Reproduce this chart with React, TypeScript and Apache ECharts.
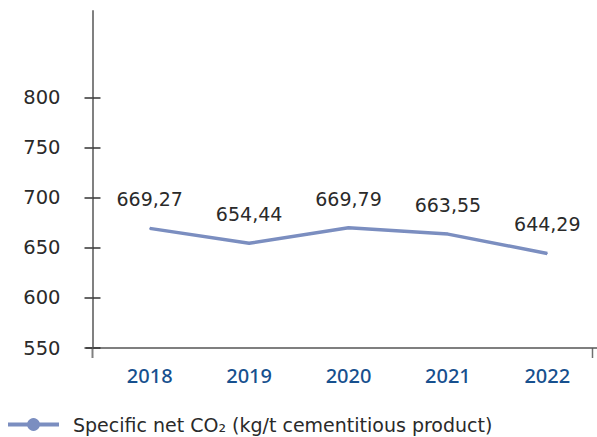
import React, { useEffect, useRef } from "react";
import * as echarts from "echarts";

const categories = ["2018", "2019", "2020", "2021", "2022"];
const co2Values = [669.27, 654.44, 669.79, 663.55, 644.29];
const yTickValues = [550, 600, 650, 700, 750, 800];
const seriesName = "Specific net CO₂ (kg/t cementitious product)";

const FONT = "'DejaVu Sans', sans-serif";

export default function App() {
  const ref = useRef<HTMLDivElement>(null);
  useEffect(() => {
    document.body.style.margin = "0";
    if (!ref.current) return;
    const chart = echarts.init(ref.current, null, { renderer: "svg" });
    const yMin = 550;
    const yMax = 886;
    chart.setOption({
      animation: false,
      backgroundColor: "#ffffff",
      grid: { left: 100, right: 0, top: 11, bottom: 89, containLabel: false },
      legend: {
        left: 1,
        top: 410,
        itemWidth: 51,
        itemHeight: 16,
        lineStyle: { width: 4 },
        textStyle: {
          fontFamily: FONT,
          fontSize: 19,
          color: "#2a2a2a",
          padding: [0, 0, 0, 9],
        },
        data: [seriesName],
      },
      xAxis: {
        type: "category",
        data: categories,
        boundaryGap: true,
        axisLine: { show: true, lineStyle: { color: "#555555", width: 1.5 } },
        axisTick: { show: false },
        axisLabel: {
          color: "#17508e",
          fontFamily: "'Noto Sans', sans-serif",
          fontWeight: 500,
          fontSize: 20,
          margin: 17,
        },
        splitLine: { show: false },
      },
      yAxis: [
        {
          type: "value",
          min: yMin,
          max: yMax,
          interval: 50,
          offset: 7.5,
          axisLine: { show: true, lineStyle: { color: "#808080", width: 2 } },
          axisTick: {
            show: true,
            length: 8,
            customValues: yTickValues,
            lineStyle: { color: "#333333", width: 1.5 },
          },
          axisLabel: {
            customValues: yTickValues,
            fontFamily: FONT,
            fontSize: 19.5,
            color: "#2a2a2a",
            margin: 32,
          },
          splitLine: { show: false },
        },
        {
          type: "value",
          min: yMin,
          max: yMax,
          interval: 50,
          offset: 7.5,
          position: "left",
          axisLine: { show: false },
          axisTick: {
            show: true,
            inside: true,
            length: 8,
            customValues: yTickValues,
            lineStyle: { color: "#333333", width: 1.5 },
          },
          axisLabel: { show: false },
          splitLine: { show: false },
        },
        {
          type: "value",
          min: yMin,
          max: yMax,
          position: "right",
          offset: 4.5,
          axisLine: { show: true, lineStyle: { color: "#707070", width: 1.5 } },
          axisTick: { show: false },
          axisLabel: { show: false },
          splitLine: { show: false },
        },
      ],
      graphic: [
        {
          type: "line",
          shape: { x1: 86, y1: 348, x2: 100, y2: 348 },
          style: { stroke: "#555555", lineWidth: 1.5 },
        },
        {
          type: "line",
          shape: { x1: 92.5, y1: 348, x2: 92.5, y2: 358 },
          style: { stroke: "#808080", lineWidth: 2 },
        },
        {
          type: "line",
          shape: { x1: 592.5, y1: 348, x2: 592.5, y2: 358 },
          style: { stroke: "#707070", lineWidth: 1.5 },
        },
      ],
      series: [
        {
          name: seriesName,
          type: "line",
          data: co2Values,
          yAxisIndex: 0,
          symbol: "circle",
          symbolSize: 1,
          showSymbol: true,
          itemStyle: { color: "#7b8ec0" },
          lineStyle: { color: "#7b8ec0", width: 3.5 },
          label: {
            show: true,
            position: "top",
            distance: 19,
            fontFamily: FONT,
            fontSize: 19,
            color: "#2a2a2a",
            formatter: (p: any) => Number(p.value).toFixed(2).replace(".", ","),
          },
        },
      ],
    });
    return () => chart.dispose();
  }, []);
  return <div ref={ref} style={{ width: 597, height: 437 }} />;
}
